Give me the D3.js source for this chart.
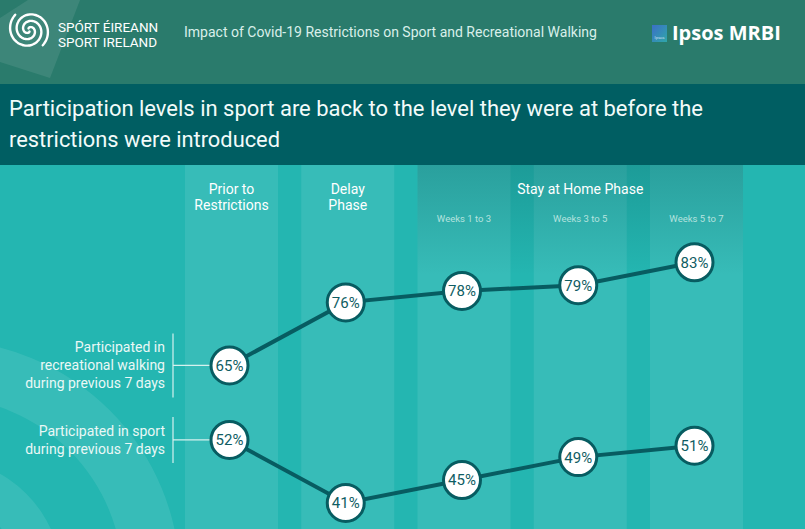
<!DOCTYPE html>
<html><head><meta charset="utf-8">
<script src="https://cdn.jsdelivr.net/npm/d3@7"></script>
<style>
html,body{margin:0;padding:0;background:#24b6b1;}
svg{display:block;font-family:"Open Sans","Noto Sans",sans-serif;}
</style></head>
<body><svg id="c" width="805" height="529"></svg>
<script>
// ---- data ----
const periods = ["Prior to Restrictions", "Delay Phase", "Weeks 1 to 3", "Weeks 3 to 5", "Weeks 5 to 7"];
const periodHeads = [["Prior to", "Restrictions"], ["Delay", "Phase"], [], [], []];
const subLabels = ["", "", "Weeks 1 to 3", "Weeks 3 to 5", "Weeks 5 to 7"];
const groupLabel = "Stay at Home Phase";
const walking = [65, 76, 78, 79, 83];
const sport = [52, 41, 45, 49, 51];
const walkingLabel = ["Participated in", "recreational walking", "during previous 7 days"];
const sportLabel = ["Participated in sport", "during previous 7 days"];
const title = ["Participation levels in sport are back to the level they were at before the", "restrictions were introduced"];
const headerTitle = "Impact of Covid-19 Restrictions on Sport and Recreational Walking";

(function () {
const svg = d3.select("#c");
const W = 805, H = 529;
const defs = svg.append("defs");

// ---- header ----
svg.append("rect").attr("width", W).attr("height", 84).attr("fill", "#2a7b6c");
svg.append("polygon").attr("points", "28,0 80,0 50,78 0,62 0,18").attr("fill", "#ffffff").attr("opacity", 0.09);
// spiral logo (double spiral)
const lg = svg.append("g").attr("transform", "translate(29,30) rotate(-35)").attr("fill", "none").attr("stroke", "#fff").attr("stroke-width", 2.4).attr("stroke-linecap", "round");
const spiral = d3.lineRadial().curve(d3.curveCatmullRom).angle(d => d[0]).radius(d => d[1]);
[0, Math.PI].forEach(off => {
  const pts = d3.range(0.3, 9.4, 0.1).map(t => [t + off, 1.0 + 2.1 * t]);
  lg.append("path").attr("d", spiral(pts));
});
svg.append("text").attr("x", 58).attr("y", 32).attr("fill", "#fff").attr("font-size", 13.5).attr("font-family", "Liberation Sans Narrow, Roboto, sans-serif").text("SPÓRT ÉIREANN");
svg.append("text").attr("x", 58).attr("y", 47).attr("fill", "#fff").attr("font-size", 13.5).attr("font-family", "Liberation Sans Narrow, Roboto, sans-serif").text("SPORT IRELAND");
svg.append("text").attr("x", 184).attr("y", 37).attr("fill", "#d9efea").attr("font-size", 14).attr("font-family", "Roboto, sans-serif").text(headerTitle);
// ipsos
const ig = defs.append("linearGradient").attr("id", "ig").attr("x1", 0).attr("y1", 0).attr("x2", 1).attr("y2", 1);
ig.append("stop").attr("offset", 0).attr("stop-color", "#3b6fc8");
ig.append("stop").attr("offset", 1).attr("stop-color", "#2fa7a8");
svg.append("rect").attr("x", 652).attr("y", 25).attr("width", 15).attr("height", 17).attr("fill", "url(#ig)");
svg.append("text").attr("x", 659.5).attr("y", 39).attr("text-anchor", "middle").attr("fill", "#e0ecff").attr("font-size", 4).text("Ipsos");
svg.append("text").attr("x", 672).attr("y", 40).attr("fill", "#fff").attr("font-size", 20).attr("font-weight", "bold").attr("font-family", "Open Sans, sans-serif").text("Ipsos MRBI");

// ---- title band ----
svg.append("rect").attr("y", 84).attr("width", W).attr("height", 81).attr("fill", "#005e62");
title.forEach((t, i) => {
  svg.append("text").attr("x", 9).attr("y", 116 + i * 31).attr("fill", "#f2fbfa").attr("font-size", 22.5)
    .attr("font-family", "Roboto, sans-serif")
    .attr("textLength", i === 0 ? 694 : 271).attr("lengthAdjust", "spacingAndGlyphs").text(t);
});

// ---- chart area ----
const topY = 165;
svg.append("rect").attr("y", topY).attr("width", W).attr("height", H - topY).attr("fill", "#24b6b1");
// decorative rings
defs.append("clipPath").attr("id", "clipc").append("rect").attr("y", topY).attr("width", W).attr("height", H - topY);
const rings = svg.append("g").attr("clip-path", "url(#clipc)");
const arc = d3.arc();
[[183, 240], [80, 122]].forEach(([r0, r1]) => {
  rings.append("path").attr("transform", "translate(-60,580)")
    .attr("d", arc({innerRadius: r0, outerRadius: r1, startAngle: 0, endAngle: 2 * Math.PI}))
    .attr("fill", "#ffffff").attr("opacity", 0.09);
});

const x = d3.scaleBand().domain(periods).range([185, 743]).paddingInner(0.2);
const y = d3.scaleLinear().domain([40, 85]).range([508.7, 250.8]);

// columns
svg.append("g").selectAll("rect").data(periods).join("rect")
  .attr("x", d => x(d)).attr("y", topY).attr("width", x.bandwidth()).attr("height", H - topY)
  .attr("fill", "#ffffff").attr("opacity", 0.09);
// stay at home darker gradient
const sg = defs.append("linearGradient").attr("id", "sg").attr("x1", 0).attr("y1", 0).attr("x2", 0).attr("y2", 1);
sg.append("stop").attr("offset", 0).attr("stop-color", "#0b5e5e").attr("stop-opacity", 0.3);
sg.append("stop").attr("offset", 1).attr("stop-color", "#0b5e5e").attr("stop-opacity", 0);
const gx0 = x(periods[2]), gx1 = x(periods[4]) + x.bandwidth();
svg.append("rect").attr("x", gx0).attr("y", topY).attr("width", gx1 - gx0).attr("height", 110).attr("fill", "url(#sg)");

// column headings
periodHeads.forEach((lines, i) => {
  lines.forEach((l, j) => {
    svg.append("text").attr("x", x(periods[i]) + x.bandwidth() / 2).attr("y", 194 + j * 16)
      .attr("text-anchor", "middle").attr("fill", "#fff").attr("font-size", 14).attr("font-family", "Roboto, sans-serif").text(l);
  });
});
svg.append("text").attr("x", (gx0 + gx1) / 2).attr("y", 194).attr("text-anchor", "middle")
  .attr("fill", "#fff").attr("font-size", 14).attr("font-family", "Roboto, sans-serif").text(groupLabel);
subLabels.forEach((l, i) => {
  if (!l) return;
  svg.append("text").attr("x", x(periods[i]) + x.bandwidth() / 2).attr("y", 222).attr("text-anchor", "middle")
    .attr("fill", "#b5e3df").attr("font-size", 9.5).attr("font-family", "Roboto, sans-serif").text(l);
});

// series labels with brackets
function seriesLabel(lines, v) {
  const cy = y(v);
  const lh = 18;
  const n = lines.length;
  const firstBase = cy - (n - 1) * lh / 2 + 5;
  lines.forEach((l, j) => {
    svg.append("text").attr("x", 165).attr("y", firstBase + j * lh).attr("text-anchor", "end")
      .attr("fill", "#eaf8f6").attr("font-size", 14).attr("font-family", "Roboto, sans-serif").text(l);
  });
  const h = (n - 1) * lh / 2 + 14;
  svg.append("line").attr("x1", 173).attr("x2", 173).attr("y1", cy - h).attr("y2", cy + h).attr("stroke", "#d5f1ee").attr("stroke-width", 1.2);
  svg.append("line").attr("x1", 173).attr("x2", 212).attr("y1", cy).attr("y2", cy).attr("stroke", "#d5f1ee").attr("stroke-width", 1.2);
}
seriesLabel(walkingLabel, walking[0]);
seriesLabel(sportLabel, sport[0]);

// lines and points
const line = d3.line().x((d, i) => x(periods[i]) + x.bandwidth() / 2 - 2).y(d => y(d));
[walking, sport].forEach(s => {
  svg.append("path").attr("d", line(s)).attr("fill", "none").attr("stroke", "#075c61").attr("stroke-width", 4);
  const g = svg.append("g").selectAll("g").data(s).join("g")
    .attr("transform", (d, i) => `translate(${x(periods[i]) + x.bandwidth() / 2 - 2},${y(d)})`);
  g.append("circle").attr("r", 18.5).attr("fill", "#fff").attr("stroke", "#075c61").attr("stroke-width", 3);
  g.append("text").attr("text-anchor", "middle").attr("dy", "0.36em").attr("fill", "#0f5d63")
    .attr("font-size", 15).attr("font-family", "Roboto, sans-serif").text(d => d + "%");
});
})();
</script></body></html>
